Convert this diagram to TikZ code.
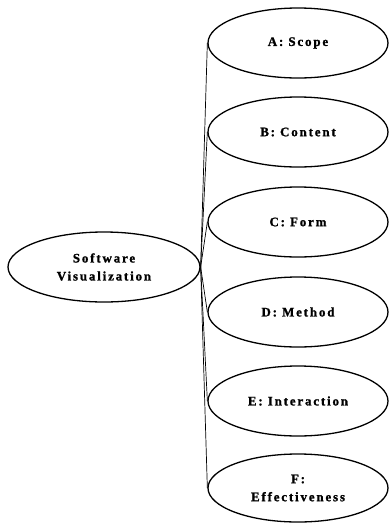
\documentclass[tikz,border=0pt]{standalone}
\usepackage{fontspec}
\setmainfont{Liberation Serif}
\newfontfamily\lblfont{Liberation Serif Bold}[LetterSpace=14, FakeBold=1.2]
\usetikzlibrary{shapes.geometric}
\tikzset{
  topic/.style={ellipse, draw, line width=1.3pt, inner sep=0pt,
    minimum width=180pt, minimum height=70pt, align=center,
    font=\lblfont\fontsize{13}{18}\selectfont},
  root/.style={topic, minimum width=192pt},
  link/.style={line width=0.7pt}
}
\begin{document}
\begin{tikzpicture}[x=1pt,y=-1pt]
  \useasboundingbox (0,0) rectangle (390,523);
  \node[root] (sv) at (104,267) {Software\\Visualization};
  \node[topic] (a) at (298,43) {A: Scope};
  \node[topic] (b) at (298,132) {B: Content};
  \node[topic] (c) at (298,222) {C: Form};
  \node[topic] (d) at (298,312) {D: Method};
  \node[topic] (e) at (298,401) {E: Interaction};
  \node[topic, minimum height=68pt] (f) at (298,488) {F:\\Effectiveness};
  \foreach \t in {a,b,c,d,e,f}
    \draw[link] (sv.east) -- (\t.west);
\end{tikzpicture}
\end{document}
